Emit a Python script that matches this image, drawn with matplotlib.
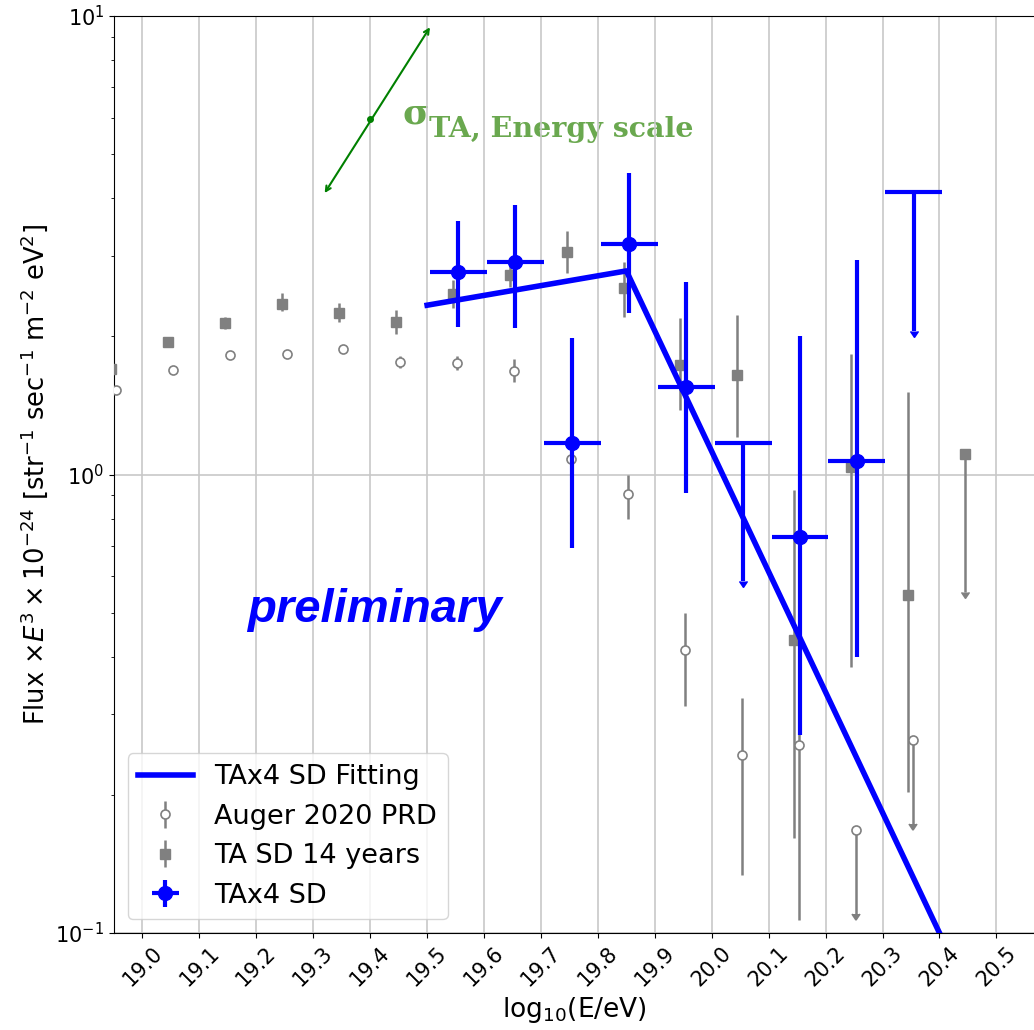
import numpy as np
import matplotlib.pyplot as plt

# TA SD 14 years spectrum (gray squares); last bin is an upper limit
ta_x = [18.945, 19.045, 19.145, 19.245, 19.345, 19.445, 19.545, 19.645,
        19.745, 19.845, 19.945, 20.045, 20.145, 20.245, 20.345, 20.445]
ta_y = [1.70, 1.95, 2.14, 2.36, 2.25, 2.15, 2.48, 2.72,
        3.05, 2.55, 1.73, 1.65, 0.436, 1.04, 0.546, 1.106]
ta_lo = [0.03, 0.03, 0.06, 0.09, 0.10, 0.12, 0.17, 0.16,
         0.30, 0.35, 0.35, 0.44, 0.275, 0.66, 0.343, 0.553]
ta_hi = [0.03, 0.04, 0.07, 0.13, 0.12, 0.13, 0.18, 0.13,
         0.34, 0.36, 0.46, 0.58, 0.489, 0.79, 0.964, 0.0]
ta_ul = [False] * 15 + [True]

# Auger 2020 PRD (open circles); last two bins are upper limits
auger_x = [18.953, 19.053, 19.153, 19.253, 19.353, 19.453, 19.553, 19.653,
           19.753, 19.853, 19.953, 20.053, 20.153, 20.253, 20.353]
auger_y = [1.53, 1.69, 1.82, 1.83, 1.88, 1.76, 1.75, 1.68,
           1.08, 0.907, 0.414, 0.244, 0.257, 0.168, 0.264]
auger_lo = [0.02, 0.02, 0.02, 0.02, 0.02, 0.05, 0.06, 0.09,
            0.06, 0.107, 0.101, 0.110, 0.150, 0.058, 0.091]
auger_hi = [0.02, 0.02, 0.02, 0.02, 0.03, 0.05, 0.06, 0.11,
            0.07, 0.093, 0.084, 0.081, 0.10, 0.0, 0.0]
auger_ul = [False] * 13 + [True, True]

# TAx4 SD measured points
tax4_x = [19.555, 19.655, 19.755, 19.855, 19.955, 20.155, 20.255]
tax4_y = [2.77, 2.90, 1.17, 3.18, 1.55, 0.73, 1.07]
tax4_lo = [0.67, 0.81, 0.48, 0.93, 0.64, 0.46, 0.67]
tax4_hi = [0.80, 0.98, 0.81, 1.36, 1.08, 1.27, 1.87]
tax4_xerr = 0.05

# TAx4 SD upper limits
tax4_ul_x = [20.055, 20.355]
tax4_ul_y = [1.17, 4.13]
tax4_ul_err = [0.585, 2.07]

# broken power-law fit
fit_x = [19.5, 19.85, 20.4]
fit_y = [2.34, 2.78, 0.1]

# energy-scale uncertainty arrow (start, centre, end)
escale_x = [19.32, 19.40, 19.505]
escale_y = [4.11, 5.96, 9.45]

fig = plt.figure(figsize=(10.34, 10.30), dpi=100)
ax = fig.add_axes([114 / 1034, 97 / 1030, 920 / 1034, 917 / 1030])

ta_x, ta_y, ta_lo, ta_hi, ta_ul = map(np.array, (ta_x, ta_y, ta_lo, ta_hi, ta_ul))
au_x, au_y, au_lo, au_hi, au_ul = map(np.array, (auger_x, auger_y, auger_lo, auger_hi, auger_ul))

gray = "#808080"
h_auger = ax.errorbar(au_x[~au_ul], au_y[~au_ul], yerr=[au_lo[~au_ul], au_hi[~au_ul]],
                      fmt="o", ms=6.5, color=gray, mfc="white", mec=gray, mew=1.2,
                      elinewidth=1.8, label="Auger 2020 PRD", zorder=3)
ax.errorbar(au_x[au_ul], au_y[au_ul], yerr=[au_lo[au_ul], au_hi[au_ul]], uplims=True,
            fmt="o", ms=6.5, color=gray, mfc="white", mec=gray, mew=1.2,
            elinewidth=1.8, zorder=3)

h_ta = ax.errorbar(ta_x[~ta_ul], ta_y[~ta_ul], yerr=[ta_lo[~ta_ul], ta_hi[~ta_ul]],
                   fmt="s", ms=6.5, color=gray, elinewidth=1.8,
                   label="TA SD 14 years", zorder=3)
ax.errorbar(ta_x[ta_ul], ta_y[ta_ul], yerr=[ta_lo[ta_ul], ta_hi[ta_ul]], uplims=True,
            fmt="s", ms=6.5, color=gray, elinewidth=1.8, zorder=3)

h_fit, = ax.plot(fit_x, fit_y, color="blue", lw=4, label="TAx4 SD Fitting", zorder=4)

h_tax4 = ax.errorbar(tax4_x, tax4_y, xerr=tax4_xerr, yerr=[tax4_lo, tax4_hi],
                     fmt="o", ms=10, color="blue", elinewidth=3,
                     label="TAx4 SD", zorder=5)
ax.errorbar(tax4_ul_x, tax4_ul_y, xerr=tax4_xerr, yerr=tax4_ul_err, uplims=True,
            fmt="none", color="blue", elinewidth=3, zorder=5)

# energy scale arrow
ax.annotate("", xy=(escale_x[2], escale_y[2]), xytext=(escale_x[0], escale_y[0]),
            arrowprops=dict(arrowstyle="<->", color="green", lw=1.5,
                            shrinkA=0, shrinkB=0, mutation_scale=9))
ax.plot(escale_x[1], escale_y[1], "o", color="green", ms=4)
ax.text(19.457, 5.84, "σ", color="#6aa84f", fontsize=26, fontweight="bold",
        family="DejaVu Serif", zorder=0.2)
ax.text(19.504, 5.45, "TA, Energy scale", color="#6aa84f", fontsize=20.5,
        fontweight="bold", family="DejaVu Serif", zorder=0.2)

ax.text(19.183, 0.477, "preliminary", color="blue", fontsize=34,
        fontweight="bold", style="italic", family="Liberation Sans")

ax.set_yscale("log")
ax.set_xlim(18.95, 20.566)
ax.set_ylim(0.1, 10)
ax.set_xticks(np.round(np.arange(19.0, 20.55, 0.1), 1))
ax.tick_params(axis="x", labelsize=15, labelrotation=45)
ax.tick_params(axis="y", labelsize=15)
ax.grid(True, which="major", color="#c8c8c8", lw=1.2)
ax.set_axisbelow(True)
ax.spines["right"].set_visible(False)

ax.set_xlabel(r"log$_{10}$(E/eV)", fontsize=19)
ax.set_ylabel(r"Flux $\times E^3 \times 10^{-24}$ [str$^{-1}$ sec$^{-1}$ m$^{-2}$ eV$^2$]",
              fontsize=18.5)

ax.legend(handles=[h_fit, h_auger, h_ta, h_tax4], loc="lower left", fontsize=19.5)

fig.savefig("out.png", dpi=100)
